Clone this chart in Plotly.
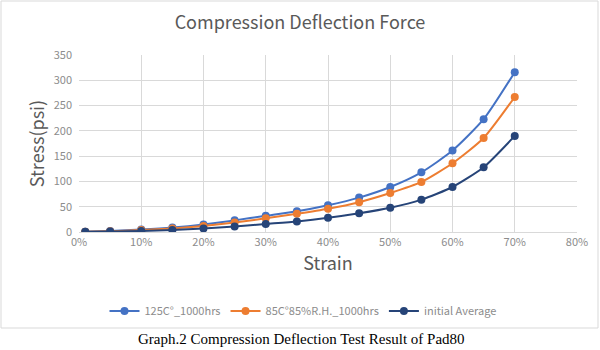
import plotly.graph_objects as go

strain = [0.01, 0.05, 0.10, 0.15, 0.20, 0.25, 0.30, 0.35, 0.40, 0.45, 0.50, 0.55, 0.60, 0.65, 0.70]
s125 = [0.5, 2, 5, 9, 15, 23, 32, 41, 53, 68, 89, 118, 161, 223, 316]
s85 = [0.5, 1.5, 4, 7, 12, 19, 27, 36, 46, 59, 77, 99, 136, 186, 267]
sinit = [0.3, 1, 2, 4, 7, 11, 16, 21, 28, 37, 48, 64, 89, 128, 190]
names = ["125C°_1000hrs", "85C°85%R.H._1000hrs", "initial Average"]
colors = ["#4472C4", "#ED7D31", "#264478"]

FONT = "Noto Sans CJK SC"
W, H = 600, 350
L, R, T, B = 79, 23, 55, 118
PW, PH = W - L - R, H - T - B

fig = go.Figure()
for ys, n, c in zip([s125, s85, sinit], names, colors):
    fig.add_trace(go.Scatter(x=strain, y=ys, name=n, mode="lines+markers",
                             line=dict(color=c, width=2, shape="spline", smoothing=0.6),
                             marker=dict(color=c, size=8)))

fig.update_layout(
    width=W, height=H, margin=dict(l=L, r=R, t=T, b=B),
    paper_bgcolor="white", plot_bgcolor="white",
    font=dict(family=FONT, color="#8c8c8c", size=11),
    title=dict(text="Compression Deflection Force", x=0.5, xanchor="center",
               y=1 - 23 / H, yanchor="middle",
               font=dict(size=18, color="#595959", family=FONT)),
    xaxis=dict(range=[0, 0.8], dtick=0.1, tickformat=".0%", showgrid=True,
               gridcolor="#d9d9d9", showline=True, linecolor="#d9d9d9", zeroline=False,
               ticks="", tickfont=dict(size=11, color="#8c8c8c"),
               title=dict(text="Strain", font=dict(size=18, color="#595959"), standoff=6)),
    yaxis=dict(range=[0, 350], dtick=50, showgrid=True, gridcolor="#d9d9d9",
               zeroline=False, showline=False, ticks="", ticklabelstandoff=6,
               tickfont=dict(size=11, color="#8c8c8c"),
               title=dict(text="Stress(psi)", font=dict(size=18, color="#595959"), standoff=4)),
    legend=dict(orientation="h", x=(303 - L) / PW, xanchor="center", y=-(311 - (H - B)) / PH,
                yanchor="middle", font=dict(size=11, color="#8c8c8c"), itemwidth=30),
)

fig.add_shape(type="rect", xref="paper", yref="paper",
              x0=-(L - 1) / PW, x1=1 + (R - 2) / PW,
              y0=-(328 - (H - B)) / PH, y1=1 + (T - 1) / PH,
              line=dict(color="#d9d9d9", width=1))
fig.add_annotation(text="Graph.2 Compression Deflection Test Result of Pad80",
                   xref="paper", yref="paper", x=(301 - L) / PW,
                   y=-(339 - (H - B)) / PH, xanchor="center", yanchor="middle",
                   showarrow=False,
                   font=dict(family="Liberation Serif", size=15, color="black"))

fig.write_html("out.html")
